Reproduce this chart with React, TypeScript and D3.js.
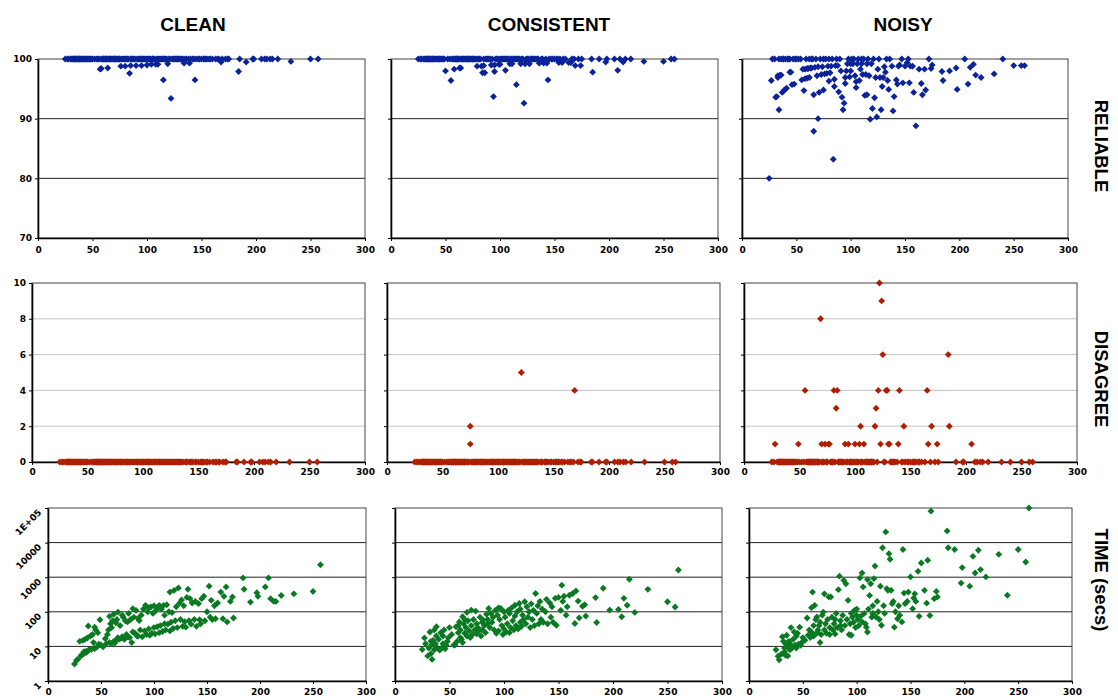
import React, { useEffect, useRef } from 'react';
import * as d3 from 'd3';

// problem sizes (x) shared by every panel, one entry per solved instance
const problemSizes = [
  25, 27, 28, 30, 31, 32, 33, 33, 34, 34,
  35, 36, 36, 37, 38, 38, 39, 40, 41, 42,
  43, 44, 44, 45, 46, 47, 48, 49, 50, 52,
  54, 55, 56, 57, 58, 58, 59, 60, 60, 61,
  62, 62, 63, 64, 64, 65, 66, 66, 67, 68,
  69, 70, 70, 71, 72, 73, 74, 75, 75, 76,
  77, 78, 79, 80, 80, 81, 82, 83, 84, 85,
  85, 86, 87, 88, 89, 90, 91, 92, 93, 94,
  95, 95, 96, 97, 98, 99, 100, 100, 101, 102,
  103, 104, 105, 105, 106, 107, 108, 109, 110, 110,
  111, 112, 113, 114, 115, 115, 116, 117, 118, 119,
  120, 121, 122, 123, 124, 125, 126, 127, 128, 129,
  130, 131, 132, 133, 134, 135, 136, 138, 139, 140,
  142, 143, 144, 145, 147, 148, 150, 152, 153, 154,
  155, 157, 158, 160, 163, 165, 166, 168, 169, 172,
  174, 175, 184, 185, 191, 197, 198, 205, 208, 210,
  213, 215, 220, 232, 240, 250, 257, 260,
];

// RELIABLE (%)
const cleanReliable = [
  100, 100, 100, 100, 100, 100, 100, 100, 100, 100,
  100, 100, 100, 100, 100, 100, 100, 100, 100, 100,
  100, 100, 100, 100, 100, 100, 100, 100, 100, 100,
  100, 100, 100, 98.3, 98.4, 100, 100, 100, 100, 100,
  100, 100, 100, 98.5, 100, 100, 100, 100, 100, 100,
  100, 100, 100, 100, 100, 100, 100, 100, 100, 98.8,
  100, 100, 100, 98.8, 100, 100, 100, 100, 97.6, 98.9,
  100, 100, 100, 100, 100, 98.9, 100, 100, 100, 100,
  98.9, 100, 100, 100, 100, 100, 99.0, 100, 100, 100,
  100, 99.1, 100, 100, 100, 100, 99.1, 100, 99.1, 100,
  100, 100, 100, 100, 96.5, 100, 100, 100, 100, 99.2,
  100, 100, 93.4, 100, 100, 100, 100, 100, 100, 100,
  100, 100, 100, 100, 99.3, 100, 100, 100, 99.3, 100,
  100, 100, 96.5, 100, 100, 100, 100, 100, 100, 100,
  100, 100, 100, 100, 100, 100, 100, 99.5, 100, 100,
  100, 100, 97.9, 100, 99.5, 100, 100, 100, 100, 100,
  100, 100, 100, 99.6, null, 100, 100, null,
];
const consistentReliable = [
  100, 100, 100, 100, 100, 100, 100, 100, 100, 100,
  100, 100, 100, 100, 100, 100, 100, 100, 100, 100,
  100, 100, 100, 100, 100, 100, 100, 100, 98.0, 100,
  100, 96.4, 100, 100, 98.3, 100, 100, 100, 100, 100,
  100, 100, 98.5, 98.5, 100, 100, 100, 100, 100, 100,
  100, 100, 100, 100, 100, 100, 100, 100, 100, 100,
  100, 100, 98.8, 100, 100, 100, 100, 98.8, 97.7, 98.9,
  100, 97.7, 100, 100, 100, 100, 100, 99.0, 100, 93.7,
  97.9, 99.0, 100, 100, 100, 99.1, 99.1, 100, 100, 100,
  100, 100, 98.1, 100, 100, 100, 100, 99.2, 100, 100,
  99.2, 100, 100, 100, 95.7, 100, 100, 100, 100, 99.2,
  100, 100, 92.6, 99.2, 100, 100, 100, 99.2, 100, 100,
  100, 100, 100, 100, 100, 100, 99.3, 100, 100, 99.3,
  100, 99.3, 96.5, 100, 100, 100, 100, 100, 100, 99.4,
  100, 99.4, 100, 100, 99.4, 99.4, 100, 100, 98.9, 100,
  98.9, 100, 100, 97.8, 100, 99.5, 100, 100, 98.1, 100,
  99.5, 100, 100, 99.6, null, 99.6, 100, 100,
];
const noisyReliable = [
  80.0, 96.4, 100, 100, 93.6, 93.7, 96.9, 97.2, 100, 91.5,
  97.3, 97.3, 100, 94.4, 100, 100, 94.8, 100, 95.1, 100,
  100, 100, 97.8, 97.8, 95.7, 100, 95.8, 100, 100, 100,
  100, 96.5, 98.3, 94.7, 98.3, 96.7, 100, 98.4, 96.8, 98.4,
  96.9, 100, 98.5, 98.5, 100, 100, 94.0, 87.9, 98.6, 100,
  97.2, 90.0, 98.7, 94.4, 100, 97.4, 98.7, 94.8, 100, 97.5,
  100, 97.6, 98.8, 96.3, 100, 97.7, 98.8, 100, 83.2, 96.6,
  95.4, 98.9, 100, 98.9, 94.5, 100, 98.0, 93.6, 91.5, 92.6,
  96.9, 95.9, 98.0, 99.2, 100, 97.0, 98.0, 99.2, 100, 99.2,
  100, 97.2, 96.2, 95.2, 99.2, 100, 96.4, 98.3, 99.2, 100,
  97.4, 100, 93.9, 97.4, 94.0, 99.2, 100, 97.2, 89.9, 99.2,
  91.7, 100, 93.5, 96.9, 90.3, 98.3, 100, 96.9, 91.5, 95.4,
  96.9, 98.7, 97.8, 100, 96.4, 94.9, 100, 98.8, 91.3, 93.7,
  96.5, 95.8, 98.8, 99.0, 100, 96.0, 98.8, 99.4, 100, 96.0,
  98.8, 98.8, 94.4, 88.8, 98.3, 95.9, 94.0, 98.3, 94.8, 100,
  98.4, 99.0, 97.9, 96.4, 98.0, 98.5, 94.9, 100, 95.8, 98.6,
  99.1, 97.3, 96.9, 97.5, 100, 98.9, 98.9, 98.9,
];

// DISAGREE (count)
const cleanDisagree = [
  0, 0, 0, 0, 0, 0, 0, 0, 0, 0,
  0, 0, 0, 0, 0, 0, 0, 0, 0, 0,
  0, 0, 0, 0, 0, 0, 0, 0, 0, 0,
  0, 0, 0, 0, 0, 0, 0, 0, 0, 0,
  0, 0, 0, 0, 0, 0, 0, 0, 0, 0,
  0, 0, 0, 0, 0, 0, 0, 0, 0, 0,
  0, 0, 0, 0, 0, 0, 0, 0, 0, 0,
  0, 0, 0, 0, 0, 0, 0, 0, 0, 0,
  0, 0, 0, 0, 0, 0, 0, 0, 0, 0,
  0, 0, 0, 0, 0, 0, 0, 0, 0, 0,
  0, 0, 0, 0, 0, 0, 0, 0, 0, 0,
  0, 0, 0, 0, 0, 0, 0, 0, 0, 0,
  0, 0, 0, 0, 0, 0, 0, 0, 0, 0,
  0, 0, 0, 0, 0, 0, 0, 0, 0, 0,
  0, 0, 0, 0, 0, 0, 0, 0, 0, 0,
  0, 0, 0, 0, 0, 0, 0, 0, 0, 0,
  0, 0, 0, 0, null, 0, 0, null,
];
const consistentDisagree = [
  0, 0, 0, 0, 0, 0, 0, 0, 0, 0,
  0, 0, 0, 0, 0, 0, 0, 0, 0, 0,
  0, 0, 0, 0, 0, 0, 0, 0, 0, 0,
  0, 0, 0, 0, 0, 0, 0, 0, 0, 0,
  0, 0, 0, 0, 0, 0, 0, 0, 0, 0,
  0, 0, 0, 0, 0, 0, 0, 2, 1, 0,
  0, 0, 0, 0, 0, 0, 0, 0, 0, 0,
  0, 0, 0, 0, 0, 0, 0, 0, 0, 0,
  0, 0, 0, 0, 0, 0, 0, 0, 0, 0,
  0, 0, 0, 0, 0, 0, 0, 0, 0, 0,
  0, 0, 0, 0, 0, 0, 0, 0, 0, 0,
  0, 5, 0, 0, 0, 0, 0, 0, 0, 0,
  0, 0, 0, 0, 0, 0, 0, 0, 0, 0,
  0, 0, 0, 0, 0, 0, 0, 0, 0, 0,
  0, 0, 0, 0, 0, 0, 0, 0, 4, 0,
  0, 0, 0, 0, 0, 0, 0, 0, 0, 0,
  0, 0, 0, 0, null, 0, 0, 0,
];
const noisyDisagree = [
  0, 0, 1, 0, 0, 0, 0, 0, 0, 0,
  0, 0, 0, 0, 0, 0, 0, 0, 0, 0,
  0, 0, 0, 0, 0, 0, 0, 1, 0, 0,
  0, 4, 0, 0, 0, 0, 0, 0, 0, 0,
  0, 0, 0, 0, 0, 0, 0, 0, 0, 0,
  8, 1, 0, 0, 0, 1, 0, 0, 0, 1,
  1, 0, 0, 0, 0, 4, 0, 3, 4, 0,
  0, 0, 0, 0, 0, 0, 1, 0, 0, 1,
  0, 0, 0, 0, 0, 0, 1, 0, 0, 0,
  0, 1, 2, 0, 0, 0, 1, 0, 0, 0,
  0, 0, 0, 0, 0, 0, 0, 0, 2, 3,
  0, 4, 10, 1, 9, 6, 0, 0, 4, 4,
  1, 1, 0, 0, 0, 0, 0, 0, 1, 4,
  0, 0, 2, 0, 0, 0, 0, 0, 0, 0,
  0, 0, 0, 0, 0, 4, 1, 0, 2, 0,
  1, 0, 6, 2, 0, 0, 0, 1, 0, 0,
  0, 0, 0, 0, 0, 0, 0, 0,
];

// TIME (secs, log scale)
const cleanTime = [
  3.1, 4, 4.2, 14, 5.3, 5.8, 6, 15, 6.3, 7,
  16, 6.6, 7.2, 17.5, 39, 7.7, 8, 20, 8.2, 22,
  13, 8.6, 36, 30, 9.5, 25, 11.5, 59, 11, 9.8,
  16.7, 12, 22, 30, 74, 13, 45, 12, 35, 55,
  14, 85, 12.5, 48, 15, 60, 18, 98, 16, 40,
  17, 80, 19, 70, 16, 55, 22, 51, 19, 90,
  18, 60, 13, 123, 26, 70, 24, 110, 20, 65,
  20, 56, 30, 80, 19, 120, 28, 154, 22, 100,
  32, 130, 21, 138, 24, 90, 35, 150, 23, 110,
  37, 140, 25, 154, 40, 120, 27, 154, 45, 80,
  30, 160, 44, 100, 28, 372, 50, 95, 33, 417,
  55, 140, 35, 490, 178, 60, 220, 38, 150, 52,
  36, 260, 447, 55, 240, 44, 180, 60, 200, 38,
  172, 59, 45, 240, 282, 55, 100, 550, 70, 214,
  60, 150, 63, 180, 372, 63, 280, 525, 51, 200,
  269, 66, 955, 447, 191, 355, 280, 525, 955, 240,
  200, 200, 295, 331, null, 389, 2290, null,
];
const consistentTime = [
  8.1, 17.6, 12, 5.3, 9, 26, 6.2, 14, 4.2, 11.3,
  15, 8, 30, 12, 37, 20, 9, 16, 7.8, 25,
  9, 20, 12, 30, 8.5, 10.8, 14, 18, 35, 22,
  11, 11, 37, 14, 25, 40, 51, 18, 30, 16,
  72, 13, 45, 24, 60, 35, 96, 20, 55, 28,
  18, 40, 112, 22, 60, 30, 105, 23, 45, 35,
  28, 70, 20, 50, 30, 57, 40, 25, 85, 45,
  60, 125, 35, 90, 50, 70, 30, 110, 24, 80,
  130, 28, 60, 125, 40, 22, 100, 32, 70, 26,
  45, 110, 25, 90, 35, 130, 55, 30, 155, 75,
  40, 100, 32, 174, 50, 120, 38, 80, 60, 195,
  45, 140, 70, 100, 35, 170, 60, 110, 40, 339,
  90, 150, 45, 200, 60, 120, 50, 100, 229, 45,
  180, 70, 140, 50, 245, 41, 260, 110, 589, 200,
  282, 80, 140, 300, 339, 46, 400, 204, 67, 145,
  160, 75, 257, 49, 478, 112, null, 117, 72, 245,
  155, 871, 96, 446, null, 195, 138, 1620,
];
const noisyTime = [
  8, 5.2, 4.1, 6, 19, 14, 7, 9, 5.5, 12,
  21, 5.3, 10, 14, 8, 12, 35, 9, 16, 26,
  11, 20, 9, 24, 11.5, 36, 10.8, 13, 18, 15,
  66, 21, 30, 18, 132, 26, 372, 40, 20, 154,
  23, 60, 71, 30, 25, 40, 13, 50, 22, 80,
  98, 331, 30, 45, 24, 60, 269, 22, 35, 269,
  70, 30, 45, 60, 23, 90, 35, 437, 1070, 40,
  55, 30, 79, 813, 40, 646, 60, 214, 22, 45,
  21, 90, 70, 50, 110, 35, 80, 120, 60, 40,
  955, 75, 1320, 51, 525, 90, 45, 36, 851, 26,
  120, 295, 646, 70, 89, 150, 912, 2090, 71, 200,
  100, 60, 550, 41, 7080, 150, 90, 20400, 468, 417,
  4790, 3310, 417, 172, 200, 36, 100, 63, 150, 80,
  51, 6310, 347, 172, 200, 372, 1020, 123, 250, 331,
  200, 1480, 74, 2570, 417, 178, 3090, 78, 81000, 240,
  389, 269, 21800, 7100, 6300, 677, 1900, 550, 4000, 1320,
  6000, 1660, 1020, 4570, 300, 6310, 2750, 100000,
];

const columnTitles = ['CLEAN', 'CONSISTENT', 'NOISY'];
const rowTitles = ['RELIABLE', 'DISAGREE', 'TIME (secs)'];
const xTicks = [0, 50, 100, 150, 200, 250, 300];
const reliableTicks = [70, 80, 90, 100];
const disagreeTicks = [0, 2, 4, 6, 8, 10];
const timeTicks = [1, 10, 100, 1000, 10000, 100000];
const timeTickLabels = ['1', '10', '100', '1000', '10000', '1E+05'];

// layout of the 3x3 grid of plot areas
const colRanges = [
    [[38, 365], [391, 718], [742, 1068]],
    [[32, 365], [387, 720], [744, 1077]],
    [[48, 366], [395, 722], [749, 1072]],
];
const rowRanges = [[59, 238], [283, 462], [508, 681]];
const colTitleX = [193, 549, 903];
const rowTitleY = [146, 379, 580];

const rows = [
    { series: [cleanReliable, consistentReliable, noisyReliable], domain: [70, 100], ticks: reliableTicks,
      grid: [80, 90], gridColor: '#222', color: '#0b2299', log: false, xPad: 6 },
    { series: [cleanDisagree, consistentDisagree, noisyDisagree], domain: [0, 10], ticks: disagreeTicks,
      grid: [2, 4, 6, 8], gridColor: '#c4c4c4', color: '#b01e00', log: false, xPad: 4 },
    { series: [cleanTime, consistentTime, noisyTime], domain: [1, 100000], ticks: timeTicks,
      grid: [10, 100, 1000, 10000], gridColor: '#222', color: '#0a7a22', log: true, xPad: 5 },
];

const tickFont = 'DejaVu Sans, Verdana, sans-serif';
const titleFont = 'Liberation Sans, Arial, sans-serif';

const App = () => {
    const ref = useRef(null);

    useEffect(() => {
        const svg = d3.select(ref.current);
        svg.selectAll('*').remove();
        const shape = (d3 as any).symbolDiamond2 || d3.symbolDiamond;
        const sym = d3.symbol().type(shape).size(30);

        rows.forEach((row, r) => {
            const [y0, y1] = rowRanges[r];
            row.series.forEach((values, c) => {
                const [x0, x1] = colRanges[r][c];
                const x = d3.scaleLinear().domain([0, 300]).range([x0, x1]);
                const y = row.log
                    ? d3.scaleLog().domain(row.domain).range([y1, y0])
                    : d3.scaleLinear().domain(row.domain).range([y1, y0]);
                const g = svg.append('g');

                g.selectAll('.grid')
                    .data(row.grid)
                    .enter()
                    .append('line')
                    .attr('class', 'grid')
                    .attr('x1', x0).attr('x2', x1)
                    .attr('y1', d => y(d)).attr('y2', d => y(d))
                    .attr('stroke', row.gridColor)
                    .attr('stroke-width', 1);

                g.append('rect')
                    .attr('x', x0).attr('y', y0)
                    .attr('width', x1 - x0).attr('height', y1 - y0)
                    .attr('fill', 'none')
                    .attr('stroke', '#444')
                    .attr('stroke-width', 1);

                // x axis
                const xa = g.append('g')
                    .attr('transform', 'translate(0,' + y1 + ')')
                    .call(d3.axisBottom(x).tickValues(xTicks).tickSizeInner(3).tickSizeOuter(0).tickPadding(row.xPad));
                xa.attr('font-family', tickFont).attr('font-size', 9).attr('font-weight', 'bold');
                xa.select('.domain').attr('stroke', '#000').attr('stroke-width', 1.6);
                xa.selectAll('text').attr('fill', '#000');

                // y axis: labels only in the first column
                const showLabels = c === 0 && !row.log;
                const ya = g.append('g')
                    .attr('transform', 'translate(' + x0 + ',0)')
                    .call(d3.axisLeft(y).tickValues(row.ticks).tickSizeInner(3).tickSizeOuter(0).tickPadding(3)
                        .tickFormat(d => (showLabels ? String(d) : '')));
                ya.attr('font-family', tickFont).attr('font-size', 9).attr('font-weight', 'bold');
                ya.select('.domain').attr('stroke', '#000').attr('stroke-width', 1.6);
                ya.selectAll('text').attr('fill', '#000');

                if (row.log && c === 0) {
                    g.selectAll('.loglabel')
                        .data(timeTicks)
                        .enter()
                        .append('text')
                        .attr('class', 'loglabel')
                        .attr('transform', (d) => 'translate(' + (x0 - 6) + ',' + (y(d) + 5) + ') rotate(-45)')
                        .attr('text-anchor', 'end')
                        .attr('font-family', tickFont)
                        .attr('font-size', 9)
                        .attr('font-weight', 'bold')
                        .text((d, i) => timeTickLabels[i]);
                }

                const pts = problemSizes
                    .map((s, i) => [s, values[i]])
                    .filter(d => d[1] !== null && d[1] !== undefined);
                g.selectAll('.pt')
                    .data(pts)
                    .enter()
                    .append('path')
                    .attr('class', 'pt')
                    .attr('d', sym)
                    .attr('transform', d => 'translate(' + x(d[0]) + ',' + y(d[1]) + ')')
                    .attr('fill', row.color);
            });

            svg.append('text')
                .attr('transform', 'translate(1101,' + rowTitleY[r] + ') rotate(90)')
                .attr('text-anchor', 'middle')
                .attr('dominant-baseline', 'central')
                .attr('font-family', titleFont)
                .attr('font-weight', 'bold')
                .attr('font-size', 18.5)
                .text(rowTitles[r]);
        });

        columnTitles.forEach((t, i) => {
            svg.append('text')
                .attr('x', colTitleX[i])
                .attr('y', 31)
                .attr('text-anchor', 'middle')
                .attr('font-family', titleFont)
                .attr('font-weight', 'bold')
                .attr('font-size', 19)
                .text(t);
        });
    }, []);

    return (
        <svg
            ref={ref}
            width={1118}
            height={696}
            style={{ position: 'absolute', left: 0, top: 0, background: '#fff' }}
        />
    );
};

export default App;
